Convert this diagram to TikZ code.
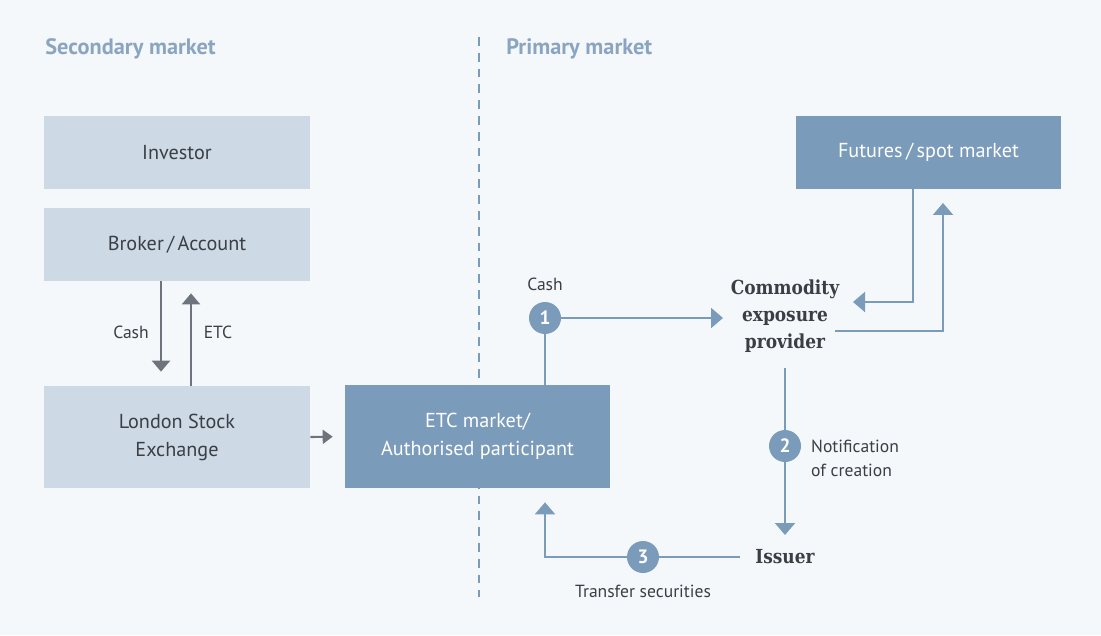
\documentclass[tikz,border=0pt]{standalone}
\usepackage{fontspec}
\setmainfont{PT Sans}
\newfontfamily\slabfont{DejaVu Serif}[FakeStretch=0.88]
\usetikzlibrary{arrows.meta}

\definecolor{panelbg}{HTML}{F5F8FA}
\definecolor{lightbox}{HTML}{CDD9E4}
\definecolor{darkbox}{HTML}{7A9BBA}
\definecolor{flowblue}{HTML}{7A9BBA}
\definecolor{flowgrey}{HTML}{6D747C}
\definecolor{headblue}{HTML}{8AA5C2}
\definecolor{bodytext}{HTML}{3A3F45}

\tikzset{
  x=0.02cm, y=-0.02cm,
  every node/.style={font=\fontsize{11.5}{16}\selectfont, text=bodytext},
  heading/.style={anchor=west, inner sep=0pt, font=\fontsize{12.7}{14}\selectfont\bfseries, text=headblue},
  lightnode/.style={fill=lightbox, minimum width=5.32cm, minimum height=1.46cm, align=center, inner sep=0pt},
  darknode/.style={fill=darkbox, minimum width=5.3cm, minimum height=1.46cm, align=center, inner sep=0pt, text=white},
  actor/.style={font=\fontsize{11}{15.3}\selectfont\slabfont\bfseries, text=bodytext, align=center, inner sep=0pt},
  stepdot/.style={circle, fill=flowblue, minimum size=0.64cm, inner sep=0pt,
    font=\fontsize{11}{12}\selectfont\bfseries, text=white},
  smalllabel/.style={font=\fontsize{10}{13.5}\selectfont, text=bodytext},
  bline/.style={draw=flowblue, line width=1.2pt},
  barr/.style={bline, -{Triangle[width=0.4cm, length=0.24cm]}},
  garr/.style={draw=flowgrey, line width=1.2pt, -{Triangle[width=0.36cm, length=0.22cm]}},
  gsmall/.style={draw=flowgrey, line width=1.2pt, -{Triangle[width=0.28cm, length=0.2cm]}},
}

\begin{document}
\begin{tikzpicture}
  % background panel
  \fill[panelbg] (0,0) rectangle (1101,635);
  \useasboundingbox (0,0) rectangle (1101,635);

  % section headings and divider
  \node[heading] (hsec) at (45,49) {Secondary market};
  \node[heading] (hpri) at (506,49) {Primary market};
  \draw[flowblue, line width=1pt, dash pattern=on 5pt off 4pt] (479,37) -- (479,597);

  % secondary market boxes
  \node[lightnode] (inv) at (177,152.5) {Investor};
  \node[lightnode] (broker) at (177,244.5) {Broker\,/\,Account};
  \node[lightnode, minimum height=2.04cm] (lse) at (177,437) {London Stock\\Exchange};

  % primary market boxes
  \node[darknode, minimum height=2.06cm] (etc) at (477.5,436.5) {ETC market/\\Authorised participant};
  \node[darknode] (fut) at (928.5,152.5) {Futures\,/\,spot market};

  % actors
  \node[actor] (cep) at (785,316) {Commodity\\exposure\\provider};
  \node[actor] (issuer) at (785,557) {Issuer};

  % step markers
  \node[stepdot] (c1) at (545,318) {1};
  \node[stepdot] (c2) at (785,446) {2};
  \node[stepdot] (c3) at (643,557) {3};

  % bend points
  \coordinate (cashx) at (161,0);
  \coordinate (etcx) at (191,0);
  \coordinate (fdown) at (913,0);
  \coordinate (fback) at (853,302);
  \coordinate (cout) at (835,331);
  \coordinate (fup) at (943,203);
  \coordinate (cbot) at (785,368);
  \coordinate (itop) at (785,535);
  \coordinate (iwest) at (740,557);
  \coordinate (ctip) at (723,318);

  % secondary market flows
  \draw[garr, shorten >=14*0.02cm] (broker.south -| cashx) -- (lse.north -| cashx);
  \draw[garr, shorten >=12*0.02cm] (lse.north -| etcx) -- (broker.south -| etcx);
  \draw[gsmall, shorten >=12*0.02cm] (lse.east) -- (etc.west);

  % step 1: cash to the exposure provider
  \draw[bline] (etc.north -| c1) -- (c1);
  \draw[barr] (c1) -- (ctip);

  % hedging with the futures / spot market
  \draw[barr] (fut.south -| fdown) |- (fback);
  \draw[barr] (cout) -| (fup);

  % step 2: notification of creation
  \draw[bline] (cbot) -- (c2);
  \draw[barr] (c2) -- (itop);

  % step 3: transfer of securities
  \draw[bline] (iwest) -- (c3);
  \draw[barr, shorten >=14*0.02cm] (c3) -| (etc.south -| c1);

  % flow labels
  \node[smalllabel] (lcash) at (131,332) {Cash};
  \node[smalllabel] (letc) at (218,332) {ETC};
  \node[smalllabel] (lcash1) at (545,284) {Cash};
  \node[smalllabel, anchor=west, align=left] (lnote) at (805,458) {Notification\\of creation};
  \node[smalllabel] (ltrans) at (643,591) {Transfer securities};
\end{tikzpicture}
\end{document}
